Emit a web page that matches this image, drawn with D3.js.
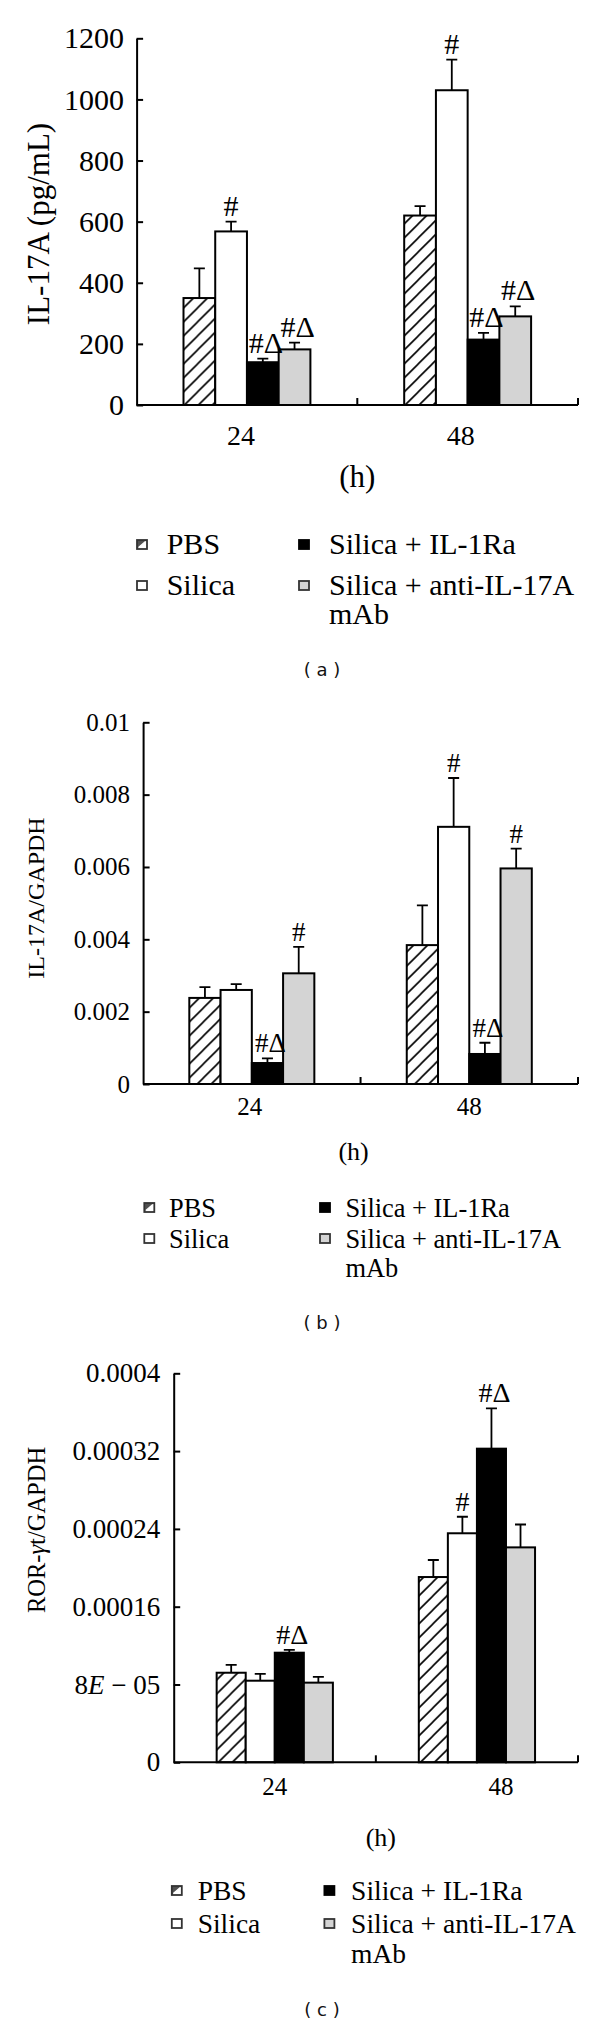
<!DOCTYPE html>
<html><head><meta charset="utf-8">
<script src="https://cdn.jsdelivr.net/npm/d3@7"></script>
<style>
body{margin:0;background:#fff}
svg{display:block}
</style>
</head><body>
<svg id="chart" width="600" height="2024"></svg>
<script>
// ---------- data ----------
const categories = ["24", "48"];
const seriesNames = ["PBS", "Silica", "Silica + IL-1Ra", "Silica + anti-IL-17A mAb"];

// (a) IL-17A protein (pg/mL)
const il17aProtein    = [[350, 568, 140, 182], [620, 1030, 214, 290]];
const il17aProteinErr = [[97, 32, 12, 22], [31, 100, 22, 33]];
const il17aProteinSig = [["", "#", "#Δ", "#Δ"], ["", "#", "#Δ", "#Δ"]];
const il17aProteinTicks = [0, 200, 400, 600, 800, 1000, 1200];
const il17aProteinTickLabels = ["0", "200", "400", "600", "800", "1000", "1200"];

// (b) IL-17A / GAPDH
const il17aMrna    = [[0.00238, 0.00260, 0.00058, 0.00306], [0.00384, 0.00711, 0.00083, 0.00596]];
const il17aMrnaErr = [[0.00030, 0.00016, 0.00013, 0.00073], [0.00110, 0.00135, 0.00031, 0.00055]];
const il17aMrnaSig = [["", "", "#Δ", "#"], ["", "#", "#Δ", "#"]];
const il17aMrnaTicks = [0, 0.002, 0.004, 0.006, 0.008, 0.01];
const il17aMrnaTickLabels = ["0", "0.002", "0.004", "0.006", "0.008", "0.01"];

// (c) ROR-γt / GAPDH
const rorgt    = [[0.0000921, 0.0000839, 0.0001127, 0.0000819], [0.0001905, 0.0002355, 0.0003225, 0.000221]];
const rorgtErr = [[0.0000080, 0.0000070, 0.0000030, 0.0000060], [0.0000175, 0.0000170, 0.0000415, 0.0000235]];
const rorgtSig = [["", "", "#Δ", ""], ["", "#", "#Δ", ""]];
const rorgtTicks = [0, 0.00008, 0.00016, 0.00024, 0.00032, 0.0004];
const rorgtTickLabels = ["0", "8E − 05", "0.00016", "0.00024", "0.00032", "0.0004"];

// ---------- drawing ----------
const SERIF = '"Liberation Serif", "Times New Roman", serif';
const SANS = '"DejaVu Sans", sans-serif';
const svg = d3.select("#chart");
svg.append("rect").attr("width", 600).attr("height", 2024).attr("fill", "#fff");
const defs = svg.append("defs");
defs.append("pattern").attr("id", "hatch").attr("patternUnits", "userSpaceOnUse")
  .attr("width", 14).attr("height", 14)
  .append("path").attr("d", "M-3.5,3.5 L3.5,-3.5 M0,14 L14,0 M10.5,17.5 L17.5,10.5")
  .attr("stroke", "#000").attr("stroke-width", 1.6);

const fills = ["url(#hatch)", "#ffffff", "#000000", "#d4d4d4"];

function serif(sel, size) {
  return sel.style("font-family", SERIF).style("font-size", size + "px").style("fill", "#000");
}

function drawPanel(cfg) {
  const g = svg.append("g");
  const x = d3.scaleBand().domain(categories).range([cfg.x0, cfg.x1])
    .paddingInner(0.425).paddingOuter(0.2125);
  const xi = d3.scaleBand().domain(seriesNames).range([0, x.bandwidth()]);
  const y = d3.scaleLinear().domain([0, cfg.yMax]).range([cfg.yBase, cfg.yTop]);

  // bars
  const groups = g.selectAll("g.grp").data(categories).join("g")
    .attr("transform", c => `translate(${x(c)},0)`);
  groups.each(function(c, ci) {
    const gg = d3.select(this);
    const rows = seriesNames.map((s, si) => ({s, si, v: cfg.values[ci][si], e: cfg.errs[ci][si], m: cfg.sig[ci][si]}));
    gg.selectAll("path.err").data(rows).join("path")
      .attr("d", d => {
        const cx = xi(d.s) + xi.bandwidth() / 2;
        return `M${cx},${y(d.v)} V${y(d.v + d.e)} M${cx - 5.5},${y(d.v + d.e)} H${cx + 5.5}`;
      })
      .attr("stroke", "#000").attr("stroke-width", 1.8).attr("fill", "none");
    gg.selectAll("rect").data(rows).join("rect")
      .attr("x", d => xi(d.s)).attr("width", xi.bandwidth())
      .attr("y", d => y(d.v)).attr("height", d => y(0) - y(d.v))
      .attr("fill", d => fills[d.si]).attr("stroke", "#000").attr("stroke-width", 2);
    serif(gg.selectAll("text.sig").data(rows.filter(d => d.m)).join("text")
      .attr("class", "sig")
      .attr("x", d => xi(d.s) + xi.bandwidth() / 2 + (d.m.length > 1 ? 3 : 0))
      .attr("y", d => y(d.v + d.e) - 6)
      .attr("text-anchor", "middle")
      .text(d => d.m), cfg.sigFont);
  });

  // y axis
  const yAxis = d3.axisLeft(y).tickValues(cfg.ticks)
    .tickFormat((d, i) => cfg.tickLabels[i])
    .tickSizeInner(-6.5).tickSizeOuter(0).tickPadding(cfg.tickPad);
  const ya = g.append("g").attr("transform", `translate(${cfg.x0},0)`).call(yAxis);
  ya.select(".domain").attr("stroke", "#000").attr("stroke-width", 2);
  ya.selectAll(".tick line").attr("stroke", "#000").attr("stroke-width", 2);
  serif(ya.selectAll(".tick text"), cfg.tickFont);
  ya.selectAll(".tick text").each(function() {
    const t = d3.select(this), s = t.text();
    const m = s.match(/^(\d)E(.*)$/);
    if (m) {
      t.text(null);
      t.append("tspan").text(m[1]);
      t.append("tspan").style("font-style", "italic").text("E");
      t.append("tspan").text(m[2]);
    }
  });

  // x axis baseline + boundary ticks
  const bounds = [x(categories[1]) - x.step() * x.paddingInner() / 2, cfg.x1];
  g.append("line").attr("x1", cfg.x0).attr("x2", cfg.x1).attr("y1", cfg.yBase).attr("y2", cfg.yBase)
    .attr("stroke", "#000").attr("stroke-width", 2);
  g.selectAll("line.bt").data(bounds).join("line")
    .attr("x1", d => d).attr("x2", d => d).attr("y1", cfg.yBase).attr("y2", cfg.yBase - 7)
    .attr("stroke", "#000").attr("stroke-width", 2);

  // category labels
  const xa = g.append("g").attr("transform", `translate(0,${cfg.yBase})`)
    .call(d3.axisBottom(x).tickSize(0));
  xa.select(".domain").remove();
  serif(xa.selectAll(".tick text"), cfg.catFont)
    .attr("y", cfg.catBaseline - cfg.yBase).attr("dy", 0)
    .attr("dx", (d, i) => cfg.catDx[i]);

  // unit label (h)
  serif(g.append("text").attr("x", bounds[0] + cfg.hDx).attr("y", cfg.hBaseline)
    .attr("text-anchor", "middle").text("(h)"), cfg.hFont);

  // y label
  const yl = serif(g.append("text")
    .attr("transform", `translate(${cfg.yLabelX},${cfg.yLabelY}) rotate(-90)`)
    .attr("text-anchor", "middle").attr("dominant-baseline", "central"), cfg.yLabelFont);
  cfg.yLabel.forEach(p => yl.append("tspan").style("font-style", p.italic ? "italic" : "normal").text(p.t));

  // legend
  const L = cfg.legend;
  seriesNames.forEach((s, i) => {
    const col = i < 2 ? 0 : 1, row = i % 2;
    const bx = L.boxX[col], tx = L.textX[col], by = L.rows[row];
    const box = g.append("g").attr("transform", `translate(${bx},${by - 14})`);
    box.append("rect").attr("width", 10).attr("height", 9)
      .attr("fill", i === 0 ? "#fff" : fills[i])
      .attr("stroke", i === 2 ? "#000" : "#333").attr("stroke-width", 1.8);
    if (i === 0) {
      box.append("path").attr("d", "M0,9 L10,0 L0,0 Z").attr("fill", "#333").attr("opacity", 0.85);
      box.append("path").attr("d", "M1.5,7.5 L8.5,1.5").attr("stroke", "#fff").attr("stroke-width", 1.2);
    }
    const lines = i === 3 ? ["Silica + anti-IL-17A", "mAb"] : [s];
    lines.forEach((ln, k) => {
      serif(g.append("text").attr("x", tx).attr("y", by + k * L.lineGap).text(ln), L.font);
    });
  });

  // caption
  g.append("text").attr("x", 322).attr("y", cfg.captionY).attr("text-anchor", "middle")
    .style("font-family", SANS).style("font-size", "18px").style("fill", "#111")
    .style("white-space", "pre").text(cfg.caption);
}

drawPanel({
  values: il17aProtein, errs: il17aProteinErr, sig: il17aProteinSig,
  ticks: il17aProteinTicks, tickLabels: il17aProteinTickLabels, yMax: 1200,
  x0: 136.6, x1: 578, yBase: 405, yTop: 38.3,
  tickFont: 30, tickPad: 12.6, sigFont: 30,
  yLabel: [{t: "IL-17A (pg/mL)"}], yLabelX: 38, yLabelY: 224, yLabelFont: 31,
  catBaseline: 445, catFont: 28, catDx: [-6, -7],
  hDx: 0, hBaseline: 487, hFont: 31,
  legend: {font: 30, boxX: [137, 299], textX: [166.7, 329], rows: [554, 595], lineGap: 29},
  captionY: 676, caption: "( a )"
});

drawPanel({
  values: il17aMrna, errs: il17aMrnaErr, sig: il17aMrnaSig,
  ticks: il17aMrnaTicks, tickLabels: il17aMrnaTickLabels, yMax: 0.01,
  x0: 143.1, x1: 578, yBase: 1084, yTop: 722.3,
  tickFont: 25, tickPad: 13, sigFont: 27,
  yLabel: [{t: "IL-17A/GAPDH"}], yLabelX: 36, yLabelY: 898, yLabelFont: 24,
  catBaseline: 1115, catFont: 25, catDx: [-2, 0],
  hDx: -7, hBaseline: 1160, hFont: 26,
  legend: {font: 26.4, boxX: [144.3, 320], textX: [169, 345.4], rows: [1217, 1248], lineGap: 29},
  captionY: 1329, caption: "( b )"
});

drawPanel({
  values: rorgt, errs: rorgtErr, sig: rorgtSig,
  ticks: rorgtTicks, tickLabels: rorgtTickLabels, yMax: 0.0004,
  x0: 173.7, x1: 578, yBase: 1762.3, yTop: 1373.3,
  tickFont: 27, tickPad: 13.4, sigFont: 28,
  yLabel: [{t: "ROR-"}, {t: "γ", italic: true}, {t: "t/GAPDH"}], yLabelX: 36, yLabelY: 1530, yLabelFont: 24.5,
  catBaseline: 1795, catFont: 25, catDx: [0, 24],
  hDx: 5, hBaseline: 1846, hFont: 26,
  legend: {font: 27.5, boxX: [171.8, 324.4], textX: [197.7, 351.1], rows: [1900, 1933], lineGap: 30},
  captionY: 2016, caption: "( c )"
});
</script>
</body></html>
